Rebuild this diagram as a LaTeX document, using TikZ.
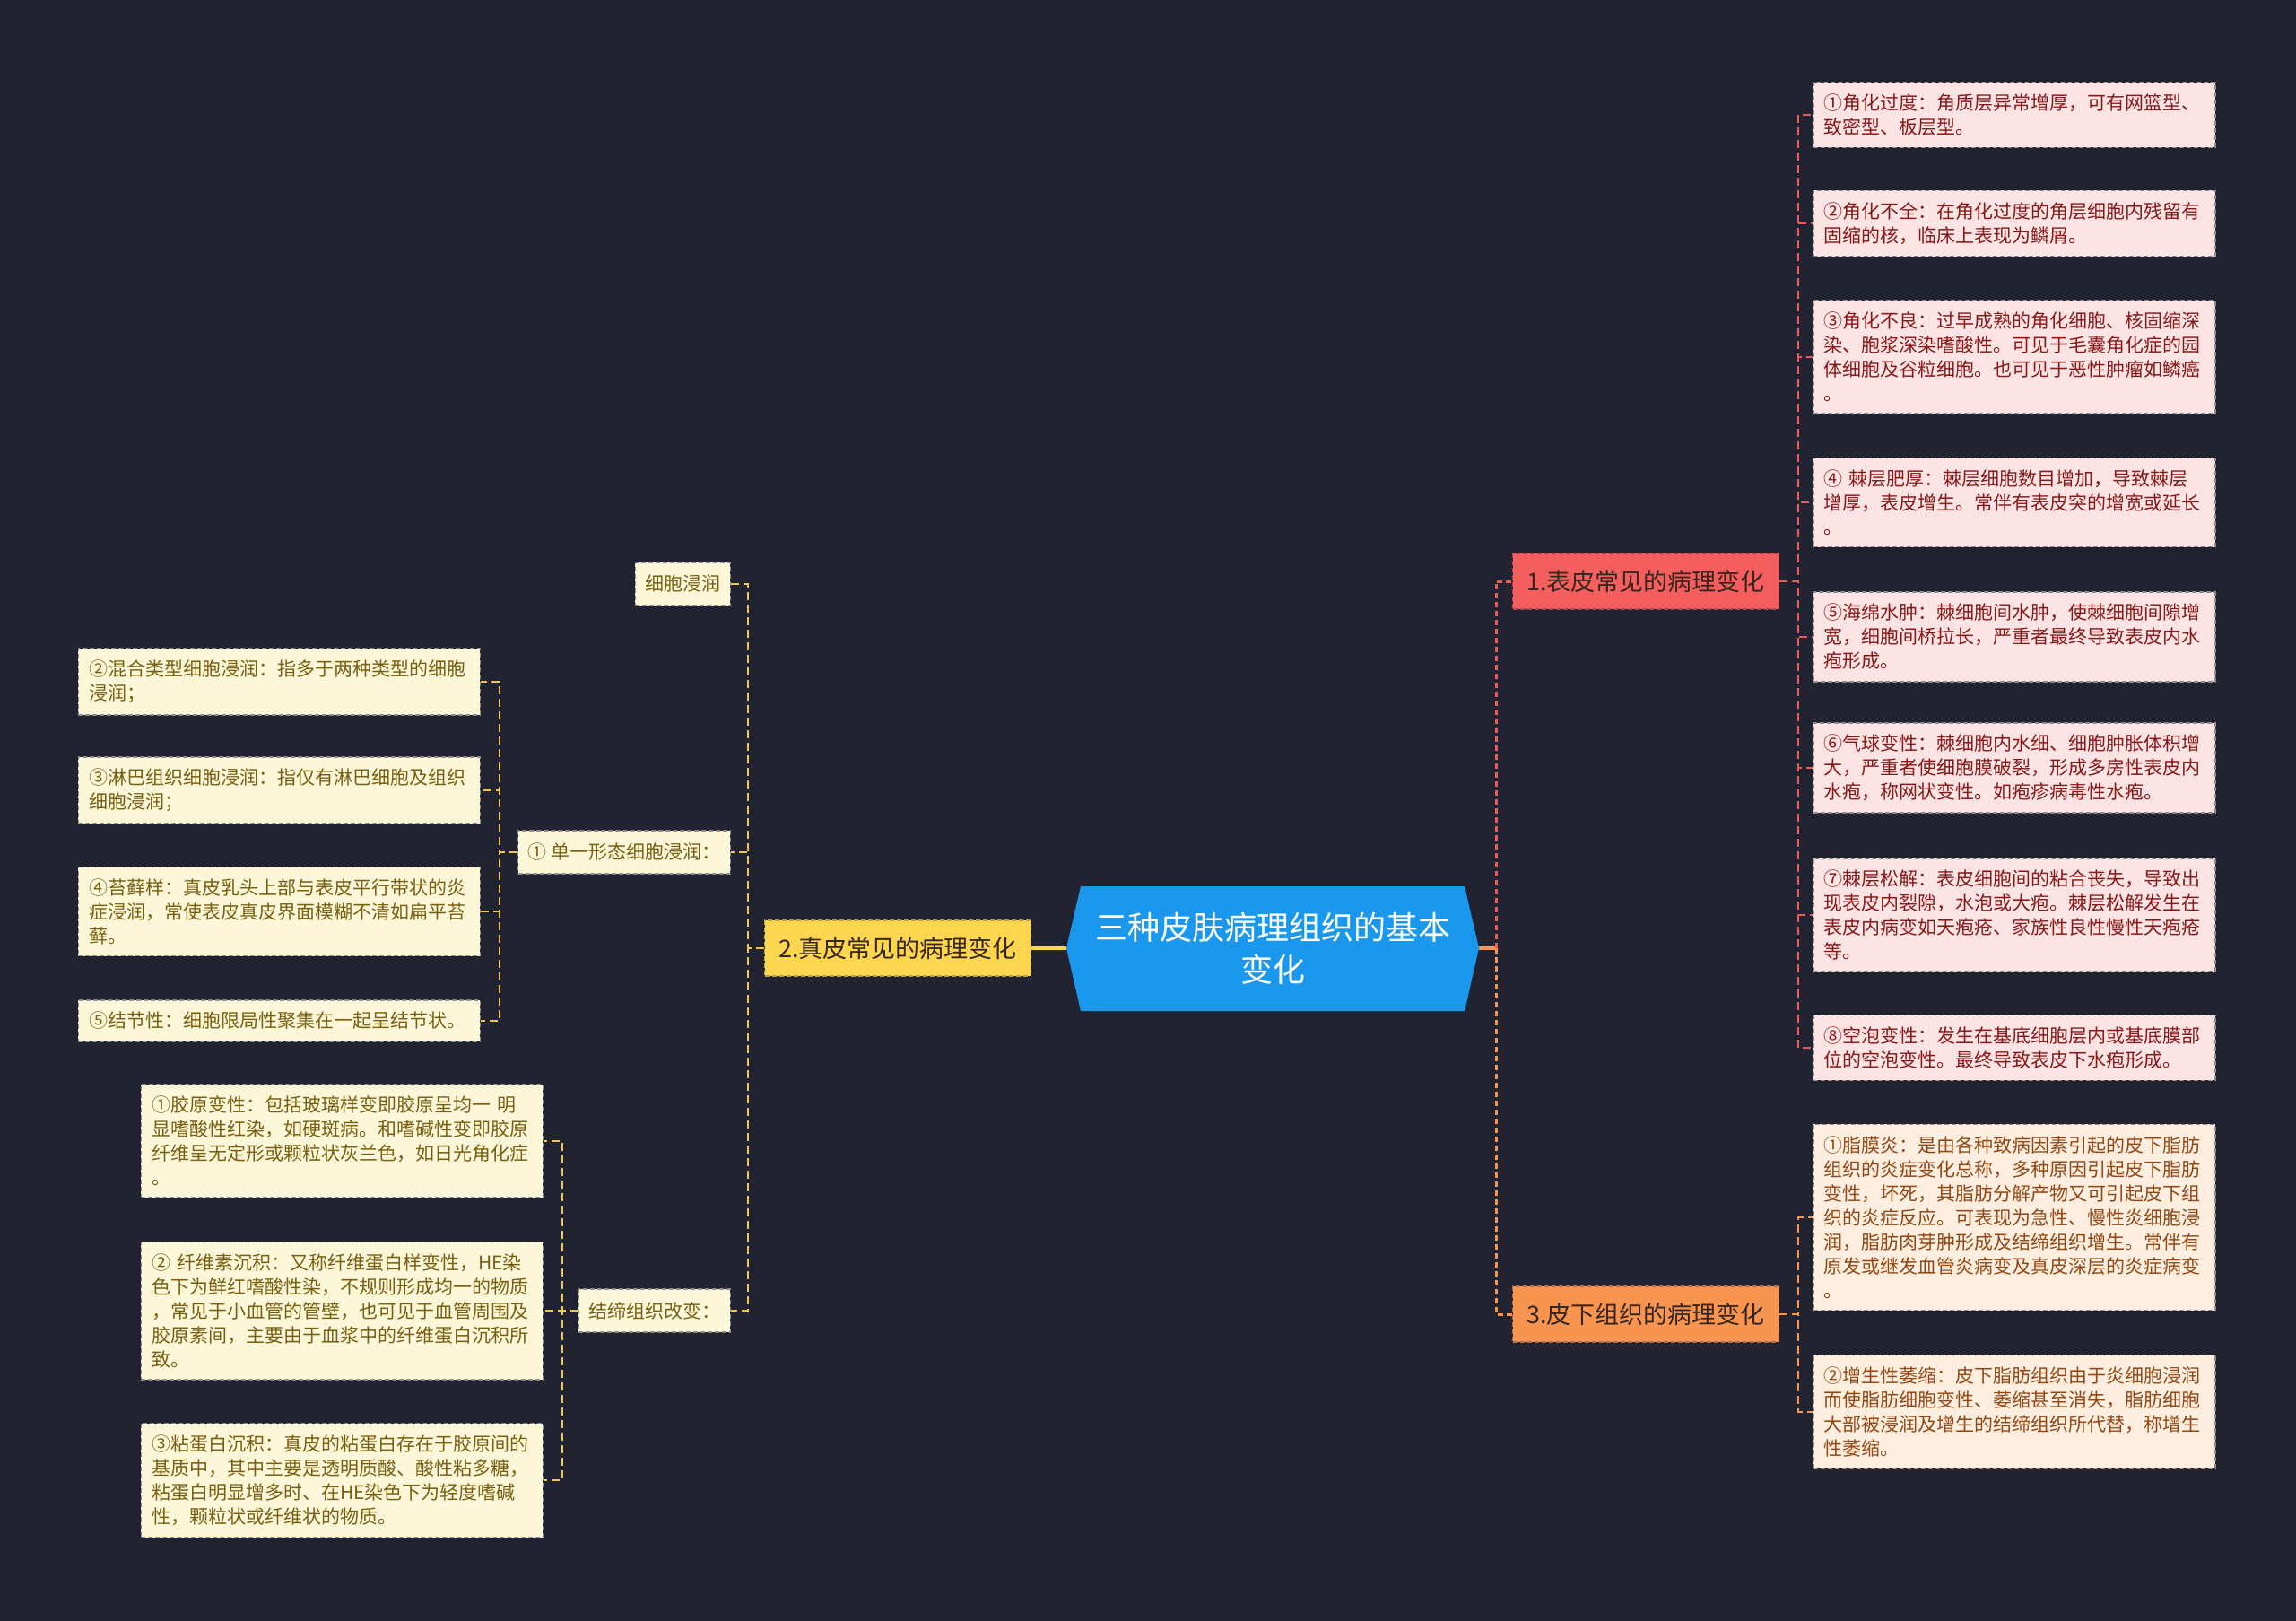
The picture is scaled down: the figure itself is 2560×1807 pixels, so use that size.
\documentclass[tikz,border=0pt]{standalone}
\usepackage{fontspec}
\setmainfont{Noto Sans CJK SC}
\usepackage{xcolor}
\usepackage{tikz}
\usetikzlibrary{arrows.meta}

\definecolor{bgdark}{RGB}{33,36,48}
\definecolor{rootblue}{RGB}{26,152,238}
\definecolor{epired}{RGB}{245,94,94}
\definecolor{subor}{RGB}{247,148,80}
\definecolor{deryel}{RGB}{253,214,80}
\definecolor{brtext}{RGB}{55,38,30}
\definecolor{epifill}{RGB}{253,228,228}
\definecolor{epitext}{RGB}{135,25,25}
\definecolor{subfill}{RGB}{253,238,224}
\definecolor{subtext}{RGB}{145,72,20}
\definecolor{derfill}{RGB}{253,247,218}
\definecolor{dertext}{RGB}{120,96,16}
\definecolor{leafedge}{RGB}{140,140,140}
\definecolor{epiline}{RGB}{235,92,92}
\definecolor{subline}{RGB}{247,150,80}
\definecolor{derline}{RGB}{235,200,85}

\begin{document}
\begin{tikzpicture}[x=1pt,y=-1pt,
  root/.style={minimum width=460pt, minimum height=139pt, align=center, text=white, font=\fontsize{36}{47}\selectfont},
  br/.style={line width=1.5pt, dash pattern=on 5pt off 3pt, minimum width=297pt, minimum height=62pt, text=brtext, font=\fontsize{27}{34}\selectfont},
  leaf/.style={draw=leafedge, line width=1.5pt, dash pattern=on 5pt off 3pt, align=left, text width=424pt, inner xsep=12pt, inner ysep=13pt, font=\fontsize{21}{27}\selectfont},
  epi/.style={leaf, fill=epifill, text=epitext, anchor=west},
  sub/.style={leaf, fill=subfill, text=subtext, anchor=west},
  der/.style={leaf, fill=derfill, text=dertext, anchor=east},
  mid/.style={draw=leafedge, line width=1.5pt, dash pattern=on 5pt off 3pt, fill=derfill, text=dertext, anchor=east, inner xsep=11pt, inner ysep=14pt, font=\fontsize{21}{27}\selectfont},
  lnk/.style={line width=2pt, dash pattern=on 9pt off 5pt},
  trunk/.style={line width=4pt},
]
% canvas
\fill[bgdark] (0,0) rectangle (2560,1807);
\useasboundingbox (0,0) rectangle (2560,1807);
% central topic
\fill[rootblue] (1205,988) -- (1633,988) -- (1649,1057) -- (1633,1127) -- (1205,1127) -- (1189,1057) -- cycle;
\node[root] (root) at (1419,1057) {三种皮肤病理组织的基本\\变化};
% main branches
\node[br, fill=epired, draw=epired!75!black] (b1) at (1835,648) {1.表皮常见的病理变化};
\node[br, fill=deryel, draw=deryel!75!black] (b2) at (1001,1057) {2.真皮常见的病理变化};
\node[br, fill=subor, draw=subor!75!black] (b3) at (1835,1465) {3.皮下组织的病理变化};
% epidermis
\node[epi] (r1) at (2021,128) {①角化过度：角质层异常增厚，可有网篮型、\\致密型、板层型。};
\node[epi] (r2) at (2021,249) {②角化不全：在角化过度的角层细胞内残留有\\固缩的核，临床上表现为鳞屑。};
\node[epi] (r3) at (2021,398) {③角化不良：过早成熟的角化细胞、核固缩深\\染、胞浆深染嗜酸性。可见于毛囊角化症的园\\体细胞及谷粒细胞。也可见于恶性肿瘤如鳞癌\\。};
\node[epi] (r4) at (2021,560) {④ 棘层肥厚：棘层细胞数目增加，导致棘层\\增厚，表皮增生。常伴有表皮突的增宽或延长\\。};
\node[epi] (r5) at (2021,710) {⑤海绵水肿：棘细胞间水肿，使棘细胞间隙增\\宽，细胞间桥拉长，严重者最终导致表皮内水\\疱形成。};
\node[epi] (r6) at (2021,856) {⑥气球变性：棘细胞内水细、细胞肿胀体积增\\大，严重者使细胞膜破裂，形成多房性表皮内\\水疱，称网状变性。如疱疹病毒性水疱。};
\node[epi] (r7) at (2021,1020) {⑦棘层松解：表皮细胞间的粘合丧失，导致出\\现表皮内裂隙，水泡或大疱。棘层松解发生在\\表皮内病变如天疱疮、家族性良性慢性天疱疮\\等。};
\node[epi] (r8) at (2021,1168) {⑧空泡变性：发生在基底细胞层内或基底膜部\\位的空泡变性。最终导致表皮下水疱形成。};
% subcutis
\node[sub] (s1) at (2021,1357) {①脂膜炎：是由各种致病因素引起的皮下脂肪\\组织的炎症变化总称，多种原因引起皮下脂肪\\变性，坏死，其脂肪分解产物又可引起皮下组\\织的炎症反应。可表现为急性、慢性炎细胞浸\\润，脂肪肉芽肿形成及结缔组织增生。常伴有\\原发或继发血管炎病变及真皮深层的炎症病变\\。};
\node[sub] (s2) at (2021,1574) {②增生性萎缩：皮下脂肪组织由于炎细胞浸润\\而使脂肪细胞变性、萎缩甚至消失，脂肪细胞\\大部被浸润及增生的结缔组织所代替，称增生\\性萎缩。};
% dermis
\node[mid] (m1) at (815,651) {细胞浸润};
\node[mid] (m2) at (815,950) {① 单一形态细胞浸润：};
\node[mid] (m3) at (815,1461) {结缔组织改变：};
\node[der] (d2) at (536,760) {②混合类型细胞浸润：指多于两种类型的细胞\\浸润；};
\node[der] (d3) at (536,881) {③淋巴组织细胞浸润：指仅有淋巴细胞及组织\\细胞浸润；};
\node[der] (d4) at (536,1016) {④苔藓样：真皮乳头上部与表皮平行带状的炎\\症浸润，常使表皮真皮界面模糊不清如扁平苔\\藓。};
\node[der] (d5) at (536,1138) {⑤结节性：细胞限局性聚集在一起呈结节状。};
\node[der] (e1) at (606,1272) {①胶原变性：包括玻璃样变即胶原呈均一 明\\显嗜酸性红染，如硬斑病。和嗜碱性变即胶原\\纤维呈无定形或颗粒状灰兰色，如日光角化症\\。};
\node[der] (e2) at (606,1461) {② 纤维素沉积：又称纤维蛋白样变性，HE染\\色下为鲜红嗜酸性染，不规则形成均一的物质\\，常见于小血管的管壁，也可见于血管周围及\\胶原素间，主要由于血浆中的纤维蛋白沉积所\\致。};
\node[der] (e3) at (606,1650) {③粘蛋白沉积：真皮的粘蛋白存在于胶原间的\\基质中，其中主要是透明质酸、酸性粘多糖，\\粘蛋白明显增多时、在HE染色下为轻度嗜碱\\性，颗粒状或纤维状的物质。};
% links from the centre
\draw[trunk, subline] (root.east) -- ++(19,0) coordinate (rj);
\draw[lnk, line width=3pt, dash pattern=on 6pt off 4pt, epiline] (rj) |- (b1.west);
\draw[lnk, line width=3pt, dash pattern=on 6pt off 4pt, subline] (rj) |- (b3.west);
\draw[trunk, deryel] (root.west) -- (b2.east);
% links to leaves
\foreach \k in {1,...,8} \draw[lnk, epiline] (b1.east) -- ++(21,0) |- (r\k.west);
\foreach \k in {1,2} \draw[lnk, subline] (b3.east) -- ++(21,0) |- (s\k.west);
\foreach \k in {1,2,3} \draw[lnk, derline] (b2.west) -- ++(-18,0) |- (m\k.east);
\foreach \k in {2,...,5} \draw[lnk, derline] (m2.west) -- ++(-20,0) |- (d\k.east);
\foreach \k in {1,2,3} \draw[lnk, derline] (m3.west) -- ++(-18,0) |- (e\k.east);
\end{tikzpicture}
\end{document}
